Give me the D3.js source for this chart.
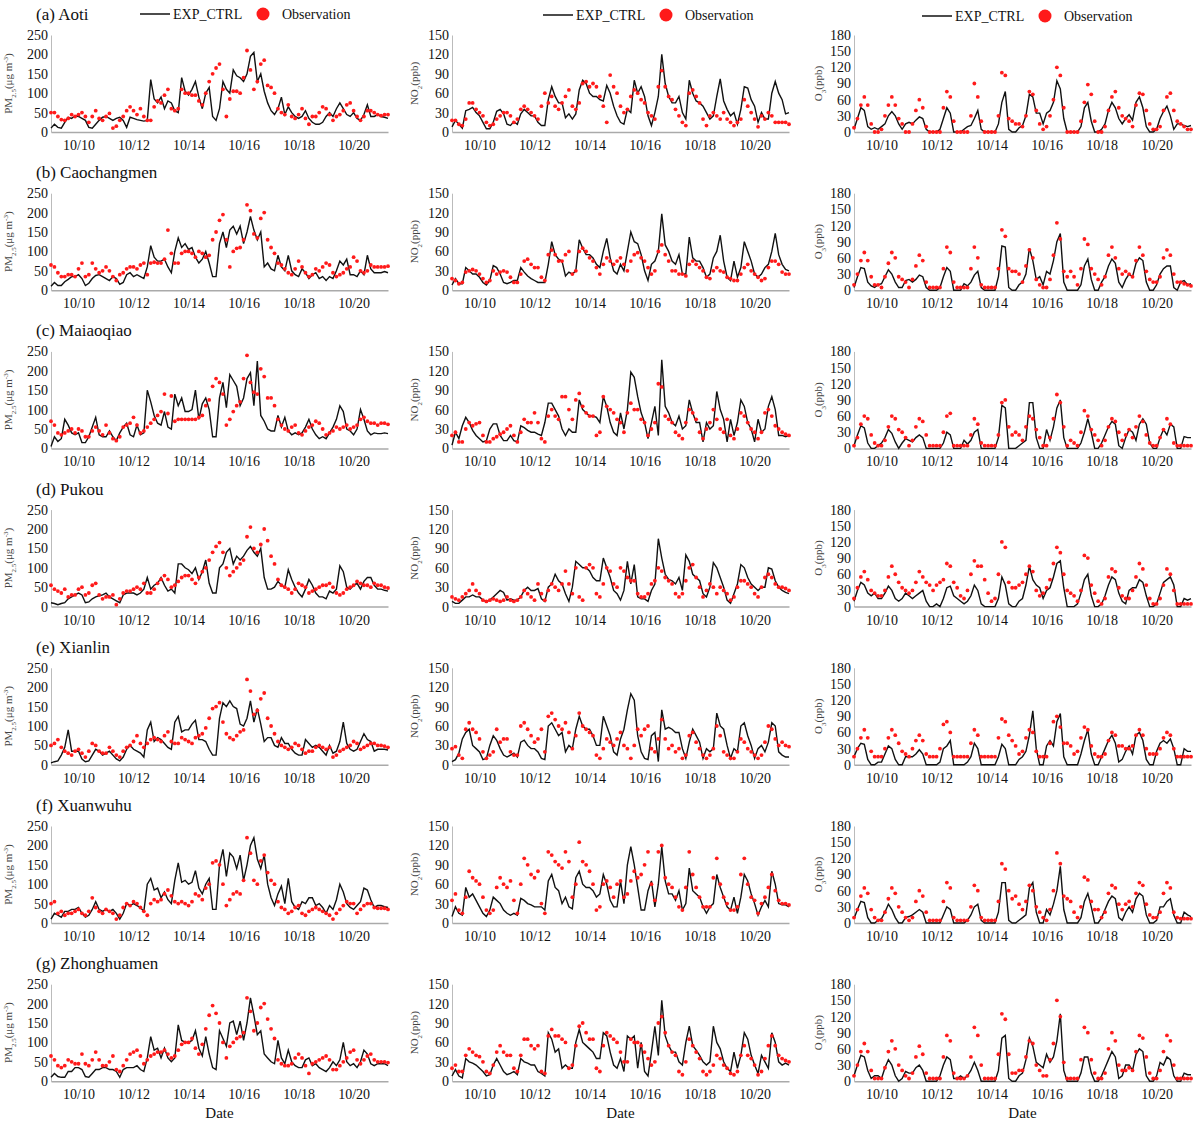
<!DOCTYPE html>
<html>
<head>
<meta charset="utf-8">
<script src="https://cdn.jsdelivr.net/npm/d3@7"></script>
<style>
body { margin: 0; background: #fff; }
svg text { font-family: "Liberation Serif", "Times New Roman", serif; }
</style>
</head>
<body>
<svg id="chart"></svg>
<script>
// values every 3 hours, first value at 10/9 00:00
let stations = ['(a) Aoti', '(b) Caochangmen', '(c) Maiaoqiao', '(d) Pukou', '(e) Xianlin', '(f) Xuanwuhu', '(g) Zhonghuamen']
let dateTicks = [10, 12, 14, 16, 18, 20]
let pm25Ticks = [0, 50, 100, 150, 200, 250]
let no2Ticks = [0, 30, 60, 90, 120, 150]
let o3Ticks = [0, 30, 60, 90, 120, 150, 180]

let aotiPm25Model = [10,20,12,10,25,38,35,42, 40,35,30,12,10,20,30,38, 40,35,30,35,38,30,12,38, 35,32,30,28,30,135,85,75, 90,60,80,75,55,50,140,105, 95,110,130,90,60,100,115,40, 30,60,130,110,100,160,145,140, 130,150,195,205,130,150,105,75, 55,45,60,90,45,65,50,40, 35,40,55,35,25,20,20,25, 40,50,40,60,75,60,45,40, 50,35,30,45,70,40,40,45, 40,38,35]
let aotiPm25Obs = [50,50,40,32,30,35,45,40, 45,50,40,25,40,55,35,30, 40,48,10,15,30,40,55,65, 55,45,60,40,30,30,65,80, 75,95,110,60,55,60,110,100, 100,95,95,80,70,100,130,150, 165,175,110,40,85,105,105,100, 140,210,160,110,130,175,185,120, 115,100,60,50,45,70,40,35, 45,60,35,20,40,40,50,65, 60,45,30,40,45,55,70,75, 55,40,30,40,55,55,50,45, 42,45,45]
let aotiNo2Model = [8,18,12,6,33,35,38,30, 25,15,5,5,15,32,35,28, 12,10,16,12,28,35,30,25, 25,15,10,10,50,70,55,45, 45,22,28,20,28,65,80,75, 60,55,55,50,48,72,60,40, 25,15,12,35,30,80,60,70, 55,25,10,30,55,120,75,55, 45,45,55,30,20,80,60,48, 45,40,30,20,25,55,82,48, 35,25,30,12,35,70,68,50, 40,15,30,20,20,60,78,60, 50,28,30]
let aotiNo2Obs = [18,18,12,10,20,45,45,35, 30,25,15,10,12,20,25,30, 30,25,15,20,35,40,35,30, 25,20,40,60,45,55,40,35, 45,55,65,40,35,45,75,78, 70,75,70,55,40,15,88,70, 60,40,30,35,55,65,60,50, 45,30,25,20,70,95,70,55, 50,35,25,15,10,60,65,55, 45,20,10,25,30,25,20,30, 20,15,10,15,20,50,40,30, 20,8,25,20,30,25,15,15, 15,15,12]
let aotiO3Model = [5,25,45,40,10,5,8,5, 10,15,30,38,30,15,5,15, 18,15,22,28,25,5,0,0, 0,5,25,45,35,0,0,0, 5,10,12,25,40,5,0,0, 0,0,15,55,75,5,0,0, 8,12,30,70,65,35,35,15, 35,40,55,95,80,25,0,0, 0,0,10,45,55,20,0,0, 5,15,40,55,45,25,15,25, 32,22,55,65,45,10,0,0, 5,25,38,48,30,5,15,15, 12,10,12]
let aotiO3Obs = [8,25,50,65,50,15,0,0, 5,30,50,65,50,25,15,0, 0,15,40,60,45,10,0,0, 0,0,45,75,65,20,0,0, 0,0,30,90,65,20,0,0, 0,0,30,110,105,25,20,15, 15,10,30,75,70,40,15,5, 10,30,60,120,105,45,0,0, 0,0,20,55,88,70,20,0, 0,10,40,65,75,45,30,25, 20,10,50,72,70,40,15,5, 5,10,40,65,72,40,20,15, 10,5,5]

let caochangmenPm25Model = [10,20,12,12,22,28,35,35, 40,30,12,18,30,38,40,35, 30,25,35,30,15,20,40,45, 35,40,35,30,60,115,85,75, 75,80,60,45,100,135,110,120, 105,110,85,70,80,100,70,35, 35,120,150,110,155,165,145,165, 120,150,190,155,130,150,60,70, 55,50,90,60,50,90,50,40, 35,55,45,30,40,45,30,35, 25,35,30,50,75,65,80,40, 40,35,50,40,90,55,45,45, 45,48,45]
let caochangmenPm25Obs = [65,60,45,35,35,40,40,35, 55,70,35,40,70,55,45,50, 60,50,35,25,40,45,55,60, 60,55,65,70,40,70,72,70, 70,80,155,95,70,70,95,100, 100,95,85,100,95,85,90,130, 150,180,195,130,60,100,108,110, 130,220,205,145,135,185,200,130, 110,95,70,65,55,45,40,55, 75,60,45,35,40,55,50,60, 70,65,45,35,40,45,55,60, 85,75,50,45,50,65,60,60, 60,60,62]
let caochangmenNo2Model = [8,18,10,10,35,30,25,25, 20,12,8,15,38,35,25,12, 10,12,15,15,35,28,22,18, 15,12,12,12,40,75,55,48, 45,22,28,25,30,78,65,55, 55,50,40,35,60,80,50,30, 25,40,30,60,90,75,72,55, 30,15,40,45,60,118,70,60, 45,40,55,25,25,82,50,45, 45,35,20,25,50,60,85,45, 20,15,45,20,35,75,60,45, 25,20,25,35,40,60,88,55, 40,32,30]
let caochangmenNo2Obs = [18,15,10,12,28,30,32,30, 25,18,12,15,30,25,28,30, 28,20,12,12,25,45,48,40, 35,35,20,15,55,62,55,45, 45,55,60,25,30,60,65,60, 50,45,35,25,40,50,45,40, 45,50,40,30,45,55,58,50, 45,35,25,30,60,70,55,45, 30,30,25,25,22,40,45,40, 35,30,20,18,30,35,30,28, 20,18,15,15,25,35,40,30, 25,20,15,18,35,45,45,40, 28,25,25]
let caochangmenO3Model = [5,25,42,40,15,8,5,10, 12,25,38,30,15,5,5,18, 20,15,20,28,25,5,0,0, 0,5,25,42,35,0,0,0, 12,8,15,28,35,5,0,0, 0,0,25,82,80,5,0,0, 10,15,30,78,55,20,25,10, 35,30,55,90,105,15,0,0, 0,0,10,45,58,20,0,0, 15,25,45,58,50,15,5,20, 30,25,50,60,55,15,0,0, 10,30,40,45,45,5,0,15, 18,10,12]
let caochangmenO3Obs = [10,30,55,70,55,25,10,10, 5,25,50,70,60,25,20,15, 5,20,45,65,55,15,5,5, 5,5,40,80,70,15,5,5, 5,5,40,80,60,10,5,5, 5,5,40,112,100,40,35,35, 30,15,45,75,60,20,10,5, 5,20,65,125,95,35,25,35, 25,10,40,95,85,40,30,20, 10,25,65,80,60,40,30,35, 30,25,55,80,65,35,20,15, 15,25,60,75,65,30,15,15, 12,10,8]

let maiaoqiaoPm25Model = [5,30,18,25,75,60,40,35, 40,15,15,30,55,80,35,30, 30,45,30,20,40,55,65,35, 30,60,35,40,150,120,85,65, 60,95,55,50,140,110,130,95, 95,100,150,75,115,130,100,30, 30,130,170,105,190,175,160,110, 130,180,195,110,225,85,70,50, 45,45,85,55,80,45,35,40, 35,40,55,75,50,35,25,30, 25,40,55,75,110,95,50,45, 35,50,100,75,45,35,40,38, 38,40,38]
let maiaoqiaoPm25Obs = [70,60,40,35,40,45,50,40, 50,45,30,30,45,55,45,35, 60,40,25,20,30,55,60,65, 80,60,40,45,55,65,75,85, 95,140,90,135,70,75,75,75, 75,75,75,80,85,110,125,160, 180,170,140,60,75,95,110,120, 180,240,170,145,140,205,185,130, 130,110,75,60,50,45,55,60, 40,35,45,55,60,70,65,50, 35,40,45,55,50,55,60,50, 55,60,75,80,70,65,65,60, 65,65,62]
let maiaoqiaoNo2Model = [5,25,15,35,48,40,28,20, 15,10,12,30,38,38,20,12, 12,20,12,10,35,32,28,25, 25,22,20,40,70,70,60,50, 30,20,30,25,25,75,60,55, 50,50,48,40,80,65,40,25, 20,55,30,60,118,110,80,55, 40,15,40,65,20,137,65,55, 40,35,50,30,35,75,55,40, 40,10,40,30,35,88,60,45, 10,45,20,40,75,65,40,30, 10,45,25,30,65,80,60,20, 20,18,20]
let maiaoqiaoNo2Obs = [20,25,10,10,30,40,35,38, 40,20,10,10,15,18,22,25, 30,35,20,10,25,45,40,40, 55,40,15,10,50,60,50,45, 80,80,60,45,75,85,65,55, 50,50,20,25,80,65,60,55, 45,40,25,55,70,60,60,45, 40,20,30,40,100,95,50,45, 40,25,20,15,40,60,55,45, 25,15,30,40,60,45,30,25, 45,20,15,30,55,50,40,30, 25,15,25,55,60,50,35,30, 25,22,20]
let maiaoqiaoO3Model = [5,25,42,38,10,0,0,5, 10,20,35,28,12,0,10,18, 15,12,20,25,20,0,0,0, 0,0,10,30,25,0,0,0, 15,8,15,30,35,0,0,0, 0,0,20,80,75,0,0,0, 5,10,15,85,85,20,0,0, 35,15,40,75,90,20,0,0, 0,0,10,30,55,30,0,0, 10,25,40,50,45,5,0,20, 35,30,15,45,55,45,10,0, 0,20,35,25,45,40,0,0, 22,20,20]
let maiaoqiaoO3Obs = [5,20,45,60,55,25,10,5, 5,15,40,60,55,35,30,20, 5,15,40,55,50,25,5,5, 5,5,30,60,65,5,5,5, 5,5,25,55,45,10,5,5, 5,5,25,85,90,40,25,30, 25,15,40,60,55,35,20,5, 5,20,55,100,85,40,5,15, 10,5,30,70,60,35,25,15, 5,15,40,55,50,30,15,25, 35,20,40,60,50,25,10,5, 5,20,35,55,45,10,5,5, 5,5,5]

let pukouPm25Model = [10,8,5,8,10,20,25,30, 35,30,10,12,20,25,28,30, 35,25,20,15,10,30,35,35, 35,30,35,45,75,45,55,60, 75,55,40,45,35,110,110,100, 95,85,100,70,90,120,60,35, 35,100,110,140,150,110,130,120, 130,145,155,140,130,150,75,45, 45,50,65,55,50,95,70,50, 35,25,45,70,55,35,25,25, 20,40,35,45,105,90,50,45, 55,60,45,65,75,75,55,45, 45,42,40]
let pukouPm25Obs = [55,45,40,35,45,25,30,30, 45,50,30,35,55,60,30,20, 25,25,30,5,20,35,40,40, 45,50,45,60,35,35,45,60, 70,80,70,50,55,65,75,80, 80,70,60,75,90,100,120,140, 155,165,140,100,80,90,100,110, 120,180,205,150,140,160,200,170, 130,110,70,55,50,45,35,45, 60,55,50,35,40,45,50,55, 55,60,50,35,30,35,45,50, 55,65,60,55,55,50,60,55, 55,50,48]
let pukouNo2Model = [8,5,5,10,15,15,18,15, 15,10,8,10,15,20,25,22, 10,12,10,10,15,25,30,25, 25,28,12,8,30,35,50,40, 35,20,8,30,70,65,60,60, 55,45,40,40,75,60,45,25, 20,10,25,70,35,65,15,12, 12,8,25,35,105,75,50,42, 40,35,45,25,80,70,50,45, 40,20,15,30,68,60,45,30, 10,5,20,35,65,60,45,35, 30,25,30,30,60,58,40,30, 25,22,20]
let pukouNo2Obs = [15,12,10,15,20,25,35,25, 20,10,8,10,12,10,8,10, 15,10,8,10,15,25,20,15, 10,35,20,10,25,35,30,25, 35,55,35,20,60,15,10,60, 65,60,20,15,35,60,55,35, 30,60,55,45,40,40,20,15, 15,20,35,40,60,55,45,40, 35,20,15,20,40,60,65,45, 30,15,25,35,30,20,30,25, 20,10,15,30,40,40,35,30, 20,15,30,45,50,45,35,30, 30,28,25]
let pukouO3Model = [10,30,45,40,25,20,25,15, 15,25,38,30,15,10,15,25, 20,15,20,25,30,10,0,0, 5,0,15,35,38,20,15,10, 5,10,20,40,30,5,0,0, 0,0,15,55,40,5,0,0, 10,15,40,75,50,40,35,15, 30,35,55,80,85,35,0,0, 0,5,25,50,60,20,0,0, 5,20,40,55,50,25,10,5, 30,35,35,50,45,20,0,0, 5,25,45,50,55,40,0,0, 15,12,15]
let pukouO3Obs = [15,35,55,65,50,30,25,20, 20,30,55,75,60,45,35,30, 25,30,45,65,55,45,40,30, 40,45,50,80,75,45,35,20, 15,30,60,85,75,75,50,25, 10,15,60,120,110,45,35,35, 40,45,60,75,65,30,20,25, 35,50,80,110,100,60,30,25, 20,10,30,95,90,40,25,10, 5,15,55,70,65,35,20,15, 15,30,55,80,70,40,15,5, 5,15,40,70,60,30,5,5, 5,5,5]

let xianlinPm25Model = [5,8,10,25,45,90,35,35, 35,15,8,10,25,40,35,25, 30,35,25,15,10,20,40,50, 40,35,30,20,90,110,60,70, 65,55,45,40,110,125,85,90, 90,105,115,65,65,60,40,25, 25,120,160,150,165,150,145,105, 100,120,165,110,145,105,60,70, 70,50,45,70,55,55,40,30, 25,25,65,55,45,50,45,35, 25,50,30,35,60,110,55,40, 35,40,60,80,65,60,35,40, 40,40,38]
let xianlinPm25Obs = [50,55,65,45,35,30,25,35, 40,30,20,35,55,50,35,30, 30,45,35,25,20,35,45,50, 60,75,55,45,55,65,70,65, 60,75,85,60,55,55,70,65, 60,55,70,75,80,95,120,145, 150,160,110,80,70,65,75,85, 90,220,190,130,140,170,185,120, 100,80,60,50,45,40,45,55, 50,40,30,35,35,45,50,45, 40,45,20,25,35,40,45,50, 60,55,40,45,50,55,55,50, 50,48,45]
let xianlinNo2Model = [5,8,18,40,50,55,30,25, 20,8,10,30,45,38,25,15, 12,15,18,12,35,38,30,25, 25,20,10,8,60,65,55,45, 50,20,30,25,55,75,60,55, 55,45,30,30,75,60,45,20, 15,40,55,85,110,100,45,20, 10,8,45,50,5,85,55,58, 55,50,50,25,10,35,55,45, 35,10,25,20,25,80,60,55, 30,10,25,20,60,65,45,30, 10,25,30,20,35,65,60,20, 15,12,12]
let xianlinNo2Obs = [25,28,15,10,55,65,55,50, 40,20,10,15,20,55,35,40, 40,20,15,15,60,65,55,45, 35,40,55,20,75,80,70,60, 55,65,50,25,45,80,60,55, 50,45,15,10,25,40,35,30, 40,50,30,25,10,30,55,45, 55,60,25,20,40,70,40,25, 30,20,25,10,15,45,50,35, 25,15,10,15,25,60,45,20, 15,10,10,20,40,35,25,20, 15,10,15,35,60,55,40,30, 35,30,28]
let xianlinO3Model = [15,30,40,38,10,0,0,5, 5,20,35,30,10,0,0,15, 15,15,20,28,20,0,0,0, 0,5,30,35,45,0,0,0, 0,5,15,40,30,0,0,0, 0,0,15,38,30,0,0,0, 10,15,25,55,100,30,0,0, 35,45,35,80,95,15,0,0, 0,0,20,45,65,20,0,0, 15,30,45,55,40,5,10,25, 35,20,55,60,45,10,0,0, 25,40,45,40,48,30,0,0, 30,25,25]
let xianlinO3Obs = [15,30,50,65,50,25,15,15, 15,30,50,65,55,40,25,20, 15,30,45,55,45,20,15,15, 15,30,75,80,60,15,15,15, 15,15,40,65,55,15,15,15, 15,15,50,85,80,55,45,35, 20,25,50,65,60,25,15,15, 15,40,80,90,70,40,40,35, 20,25,50,70,65,35,20,15, 15,20,45,60,55,35,35,30, 30,35,55,65,55,30,20,20, 20,30,50,60,55,30,15,15, 15,15,15]

let xuanwuhuPm25Model = [10,25,20,15,30,30,35,35, 40,25,15,20,35,55,35,30, 35,30,35,25,10,25,50,45, 50,45,40,30,100,115,85,90, 65,80,60,50,110,155,105,110, 100,105,135,90,75,100,115,35, 35,150,190,120,180,170,140,175, 110,150,200,220,165,140,175,100, 65,45,75,95,50,115,55,40, 35,55,50,65,65,45,50,40, 25,45,35,60,100,80,50,40, 35,45,55,90,85,60,40,45, 45,42,40]
let xuanwuhuPm25Obs = [50,55,25,30,20,25,25,30, 35,25,20,30,65,40,30,25, 35,30,25,10,20,40,50,45, 55,50,40,30,20,50,60,55, 60,75,85,70,55,50,55,50, 45,55,75,70,60,90,100,155, 160,150,100,45,60,75,80,75, 110,220,180,110,100,160,175,130, 110,100,55,40,35,25,30,40, 45,25,20,30,35,40,35,30, 25,20,10,25,35,45,55,50, 50,25,35,45,50,50,40,38, 38,38,35]
let xuanwuhuNo2Model = [10,25,15,12,55,40,45,35, 25,15,10,20,40,35,30,20, 15,12,15,12,38,35,30,28, 25,25,25,20,65,75,55,50, 30,40,25,22,70,80,60,55, 55,50,40,45,75,60,35,25, 25,65,30,90,118,90,55,20, 20,50,65,25,60,118,65,45, 45,35,50,20,30,85,50,45, 40,25,15,25,30,75,55,40, 25,20,40,15,40,75,65,45, 30,12,25,35,25,80,60,30, 28,28,25]
let xuanwuhuNo2Obs = [35,45,20,15,40,80,70,65, 60,40,20,15,20,55,70,60, 55,65,35,15,60,100,90,75, 70,80,30,15,110,105,95,90, 85,110,95,40,60,125,95,90, 80,60,20,25,60,65,55,40, 60,65,40,45,65,80,70,75, 90,110,60,35,110,120,70,60, 55,40,25,20,55,110,75,55, 40,25,25,25,70,100,60,40, 30,20,20,25,75,100,60,40, 35,15,30,40,55,75,50,35, 30,30,28]
let xuanwuhuO3Model = [8,25,40,38,10,0,0,5, 8,20,35,25,10,0,0,10, 12,15,20,25,20,0,0,0, 0,0,15,30,25,0,0,0, 0,5,15,30,35,5,0,0, 0,0,20,75,75,5,0,0, 5,10,15,65,75,20,0,0, 25,15,35,60,105,25,0,0, 0,0,10,40,55,30,0,0, 10,25,40,50,45,10,5,20, 30,20,45,55,50,15,0,0, 5,30,30,40,45,15,0,0, 20,15,12]
let xuanwuhuO3Obs = [10,25,50,65,55,25,10,5, 5,20,45,65,55,30,20,10, 5,10,40,60,50,20,5,5, 5,5,40,75,65,10,5,5, 5,5,30,70,60,10,5,5, 5,5,40,110,100,60,45,50, 35,25,40,70,60,30,20,10, 5,25,60,130,110,50,45,40, 20,10,30,85,80,40,25,25, 10,20,55,70,65,35,25,35, 40,30,55,75,70,35,15,10, 10,20,55,75,65,20,10,8, 8,8,8]

let zhonghuamenPm25Model = [10,20,12,10,10,25,25,35, 35,30,12,10,20,30,30,35, 35,30,30,25,10,30,35,35, 35,40,30,25,60,115,80,85, 60,85,60,50,60,145,105,100, 100,105,130,85,65,115,70,35, 30,130,110,90,150,155,120,155, 105,150,215,170,120,130,70,60, 50,45,105,60,45,80,50,40, 35,35,55,60,40,45,35,30, 25,35,50,40,55,100,50,40, 45,35,50,80,70,45,40,45, 45,45,40]
let zhonghuamenPm25Obs = [65,55,40,35,40,55,50,45, 45,70,45,40,55,75,55,40, 40,50,65,30,25,40,55,70, 75,80,65,45,55,65,70,75, 75,80,70,60,65,80,95,100, 100,110,85,70,95,135,170,195, 175,150,100,60,90,100,110,115, 125,215,180,130,150,190,200,160, 135,110,55,45,40,40,45,60, 70,60,40,20,45,50,55,60, 65,55,30,30,40,50,60,75, 80,55,45,55,65,70,55,50, 50,50,48]
let zhonghuamenNo2Model = [8,18,8,5,35,30,28,25, 20,15,8,10,25,35,25,15, 10,12,15,10,35,30,28,25, 25,15,12,8,75,65,45,50, 20,25,20,20,60,80,60,55, 50,45,35,35,75,70,45,25, 20,35,15,70,65,70,20,60, 15,8,45,85,40,125,70,55, 45,45,30,25,60,85,55,48, 40,30,25,30,85,60,50,30, 20,15,45,20,40,75,65,40, 25,12,40,30,20,75,60,30, 25,28,25]
let zhonghuamenNo2Obs = [20,25,15,15,40,50,45,40, 38,30,15,12,25,45,55,45, 40,40,20,15,40,65,65,55, 50,55,15,12,70,80,70,70, 65,60,20,25,55,85,90,75, 65,65,20,15,55,75,70,65, 60,45,30,30,65,60,60,55, 45,35,25,30,90,100,75,55, 45,40,15,10,30,65,55,45, 35,15,10,15,25,40,35,25, 20,12,10,15,40,55,40,35, 25,10,15,35,55,70,55,40, 35,32,30]
let zhonghuamenO3Model = [10,30,48,45,20,5,10,10, 5,25,40,30,10,0,5,18, 15,15,25,30,20,0,0,0, 0,10,30,45,40,5,5,10, 5,10,20,35,20,0,0,0, 0,0,20,80,85,5,0,0, 10,15,40,80,65,35,30,25, 50,35,45,75,125,20,0,0, 0,0,15,45,45,15,0,0, 10,25,40,55,45,5,10,30, 30,20,50,60,55,10,0,0, 10,35,30,45,40,10,0,0, 15,12,12]
let zhonghuamenO3Obs = [10,30,55,70,55,20,5,5, 5,25,55,75,60,30,20,10, 5,15,45,65,50,15,5,5, 5,5,45,85,75,15,5,5, 5,10,45,100,85,30,5,5, 5,5,50,125,115,50,15,15, 20,20,45,75,70,30,20,10, 10,40,70,150,120,35,5,5, 5,5,40,100,90,40,15,5, 5,15,60,90,75,30,20,20, 25,20,55,85,80,45,15,5, 5,20,55,85,75,30,5,5, 5,5,5]

// rows: stations, columns: PM2.5, NO2, O3 as [model, obs]
let table = [
  [[aotiPm25Model, aotiPm25Obs], [aotiNo2Model, aotiNo2Obs], [aotiO3Model, aotiO3Obs]],
  [[caochangmenPm25Model, caochangmenPm25Obs], [caochangmenNo2Model, caochangmenNo2Obs], [caochangmenO3Model, caochangmenO3Obs]],
  [[maiaoqiaoPm25Model, maiaoqiaoPm25Obs], [maiaoqiaoNo2Model, maiaoqiaoNo2Obs], [maiaoqiaoO3Model, maiaoqiaoO3Obs]],
  [[pukouPm25Model, pukouPm25Obs], [pukouNo2Model, pukouNo2Obs], [pukouO3Model, pukouO3Obs]],
  [[xianlinPm25Model, xianlinPm25Obs], [xianlinNo2Model, xianlinNo2Obs], [xianlinO3Model, xianlinO3Obs]],
  [[xuanwuhuPm25Model, xuanwuhuPm25Obs], [xuanwuhuNo2Model, xuanwuhuNo2Obs], [xuanwuhuO3Model, xuanwuhuO3Obs]],
  [[zhonghuamenPm25Model, zhonghuamenPm25Obs], [zhonghuamenNo2Model, zhonghuamenNo2Obs], [zhonghuamenO3Model, zhonghuamenO3Obs]]
]

let width = 1200
let height = 1125
let plotW = 337
let plotH = 97
let colLeft = [51, 452, 854]
let rowTop = (i) => 35 + i * 158.2
let startDay = 9
let stepDay = 1 / 8

let columns = [
  {ticks: pm25Ticks, max: 250, unit: ['PM', '2.5', '(\u03bcg m', '-3', ')'], labelOff: -39, legendX: 140},
  {ticks: no2Ticks, max: 150, unit: ['NO', '2', '(ppb)'], labelOff: -34, legendX: 543},
  {ticks: o3Ticks, max: 180, unit: ['O', '3', '(ppb)'], labelOff: -32, legendX: 922}
]

let svg = d3.select('#chart').attr('width', width).attr('height', height)
svg.append('rect').attr('width', width).attr('height', height).attr('fill', '#fff')

let xScale = d3.scaleLinear().domain([9, 21.25]).range([0, plotW])

table.forEach((row, r) => {
  let top = rowTop(r)

  svg.append('text')
    .attr('x', 36).attr('y', top - 15)
    .attr('font-size', 17).attr('fill', '#111')
    .text(stations[r])

  row.forEach((pair, c) => {
    let col = columns[c]
    let yScale = d3.scaleLinear().domain([0, col.max]).range([plotH, 0])
    let g = svg.append('g').attr('transform', `translate(${colLeft[c]},${top})`)

    let yAxis = g.append('g')
      .call(d3.axisLeft(yScale).tickValues(col.ticks).tickSize(0).tickPadding(3))
    yAxis.selectAll('text').attr('font-size', 14).attr('fill', '#111')
      .attr('font-family', '"Liberation Serif", serif')
    yAxis.select('.domain').attr('stroke', '#bbb')

    let xAxis = g.append('g').attr('transform', `translate(0,${plotH})`)
      .call(d3.axisBottom(xScale).tickValues(dateTicks).tickFormat(d => '10/' + d).tickSize(0).tickPadding(8))
    xAxis.selectAll('text').attr('font-size', 14).attr('fill', '#111')
      .attr('font-family', '"Liberation Serif", serif')
    xAxis.select('.domain').attr('stroke', '#aaa').attr('stroke-width', 1.5)

    // axis title with sub/superscripts
    let lbl = g.append('text')
      .attr('transform', `translate(${col.labelOff},${plotH / 2}) rotate(-90)`)
      .attr('text-anchor', 'middle').attr('font-size', 11).attr('fill', '#444')
    lbl.append('tspan').text(col.unit[0])
    lbl.append('tspan').attr('baseline-shift', 'sub').attr('font-size', 7).text(col.unit[1])
    lbl.append('tspan').text(col.unit[2])
    if (col.unit.length > 3) {
      lbl.append('tspan').attr('baseline-shift', 'super').attr('font-size', 7).text(col.unit[3])
      lbl.append('tspan').text(col.unit[4])
    }

    let line = d3.line()
      .x((d, i) => xScale(startDay + i * stepDay))
      .y(d => yScale(d))

    g.append('path').datum(pair[0])
      .attr('d', line)
      .attr('fill', 'none').attr('stroke', '#111').attr('stroke-width', 1.4)

    g.selectAll('circle.obs').data(pair[1]).enter()
      .append('circle').attr('class', 'obs')
      .attr('cx', (d, i) => xScale(startDay + i * stepDay))
      .attr('cy', d => yScale(d))
      .attr('r', 1.9)
      .attr('fill', '#ff1a1a')

    if (r === 0) {
      let lg = svg.append('g').attr('transform', `translate(${col.legendX},${14 + c})`)
      lg.append('line').attr('x1', 0).attr('x2', 30).attr('stroke', '#111').attr('stroke-width', 1.5)
      lg.append('text').attr('x', 33).attr('y', 5).attr('font-size', 14).attr('fill', '#111').text('EXP_CTRL')
      lg.append('circle').attr('cx', 123).attr('cy', 0).attr('r', 6.5).attr('fill', '#ff1a1a')
      lg.append('text').attr('x', 142).attr('y', 5).attr('font-size', 14).attr('fill', '#111').text('Observation')
    }

    if (r === table.length - 1) {
      svg.append('text')
        .attr('x', colLeft[c] + plotW / 2).attr('y', top + plotH + 37)
        .attr('text-anchor', 'middle').attr('font-size', 15).attr('fill', '#111')
        .text('Date')
    }
  })
})
</script>
</body>
</html>
